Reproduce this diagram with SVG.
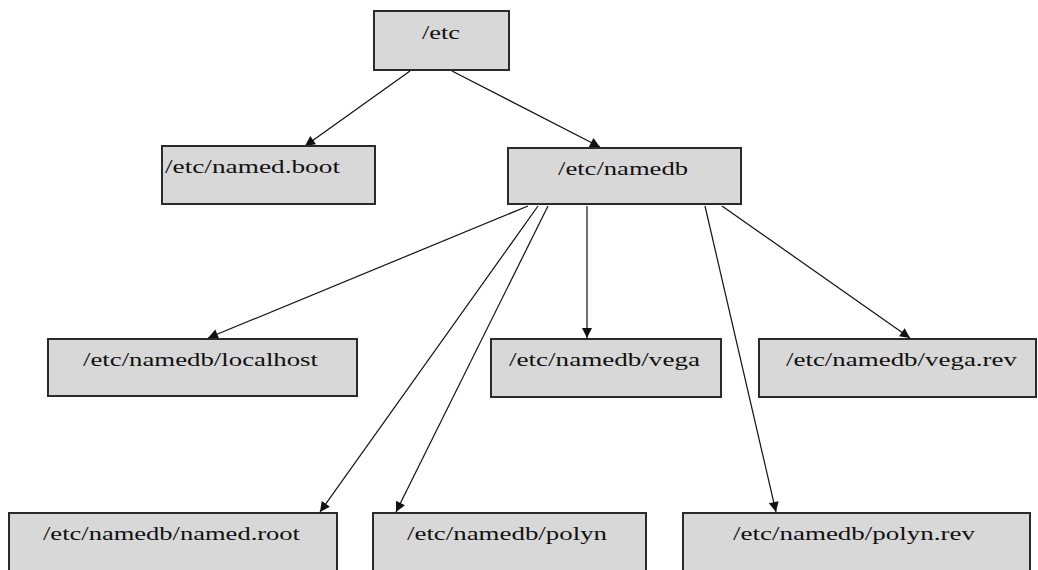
<svg xmlns="http://www.w3.org/2000/svg" width="1038" height="570" viewBox="0 0 1038 570">
  <style>
    .box { fill: #d8d8d8; stroke: #2a2a2a; stroke-width: 2; }
    .lbl { font-family: "Liberation Serif", "Times New Roman", serif; font-size: 19px; fill: #111; }
    .edge { stroke: #111; stroke-width: 1.2; fill: none; marker-end: url(#arrow); }
  </style>
  <defs>
    <marker id="arrow" viewBox="0 0 10 10" refX="10" refY="5" markerWidth="11" markerHeight="10" markerUnits="userSpaceOnUse" orient="auto">
      <path d="M0,0 L10,5 L0,10 z" fill="#111"/>
    </marker>
  </defs>
  <rect width="1038" height="570" fill="#ffffff"/>

  <g id="connectors">
    <line class="edge" x1="410" y1="71" x2="305" y2="146"/>
    <line class="edge" x1="452" y1="71" x2="600" y2="147"/>
    <line class="edge" x1="528" y1="206" x2="208" y2="338"/>
    <line class="edge" x1="538" y1="206" x2="320" y2="512"/>
    <line class="edge" x1="548" y1="206" x2="396" y2="512"/>
    <line class="edge" x1="587" y1="206" x2="587" y2="338"/>
    <line class="edge" x1="705" y1="206" x2="776" y2="512"/>
    <line class="edge" x1="722" y1="206" x2="910" y2="338"/>
  </g>

  <g id="n-etc">
    <rect class="box" x="374" y="11" width="135" height="59"/>
    <text class="lbl" x="422" y="39" textLength="38" lengthAdjust="spacingAndGlyphs">/etc</text>
  </g>
  <g id="n-named-boot">
    <rect class="box" x="162" y="146" width="213" height="58"/>
    <text class="lbl" x="165" y="173" textLength="175" lengthAdjust="spacingAndGlyphs">/etc/named.boot</text>
  </g>
  <g id="n-namedb">
    <rect class="box" x="508" y="148" width="233" height="56"/>
    <text class="lbl" x="558" y="175" textLength="130" lengthAdjust="spacingAndGlyphs">/etc/namedb</text>
  </g>
  <g id="n-localhost">
    <rect class="box" x="48" y="339" width="309" height="57"/>
    <text class="lbl" x="83" y="366" textLength="235" lengthAdjust="spacingAndGlyphs">/etc/namedb/localhost</text>
  </g>
  <g id="n-vega">
    <rect class="box" x="491" y="339" width="230" height="58"/>
    <text class="lbl" x="509" y="366" textLength="191" lengthAdjust="spacingAndGlyphs">/etc/namedb/vega</text>
  </g>
  <g id="n-vega-rev">
    <rect class="box" x="759" y="339" width="277" height="58"/>
    <text class="lbl" x="786" y="366" textLength="231" lengthAdjust="spacingAndGlyphs">/etc/namedb/vega.rev</text>
  </g>
  <g id="n-named-root">
    <rect class="box" x="9" y="513" width="328" height="70"/>
    <text class="lbl" x="43" y="540" textLength="257" lengthAdjust="spacingAndGlyphs">/etc/namedb/named.root</text>
  </g>
  <g id="n-polyn">
    <rect class="box" x="373" y="513" width="273" height="70"/>
    <text class="lbl" x="407" y="540" textLength="200" lengthAdjust="spacingAndGlyphs">/etc/namedb/polyn</text>
  </g>
  <g id="n-polyn-rev">
    <rect class="box" x="683" y="513" width="347" height="70"/>
    <text class="lbl" x="733" y="540" textLength="242" lengthAdjust="spacingAndGlyphs">/etc/namedb/polyn.rev</text>
  </g>
</svg>
